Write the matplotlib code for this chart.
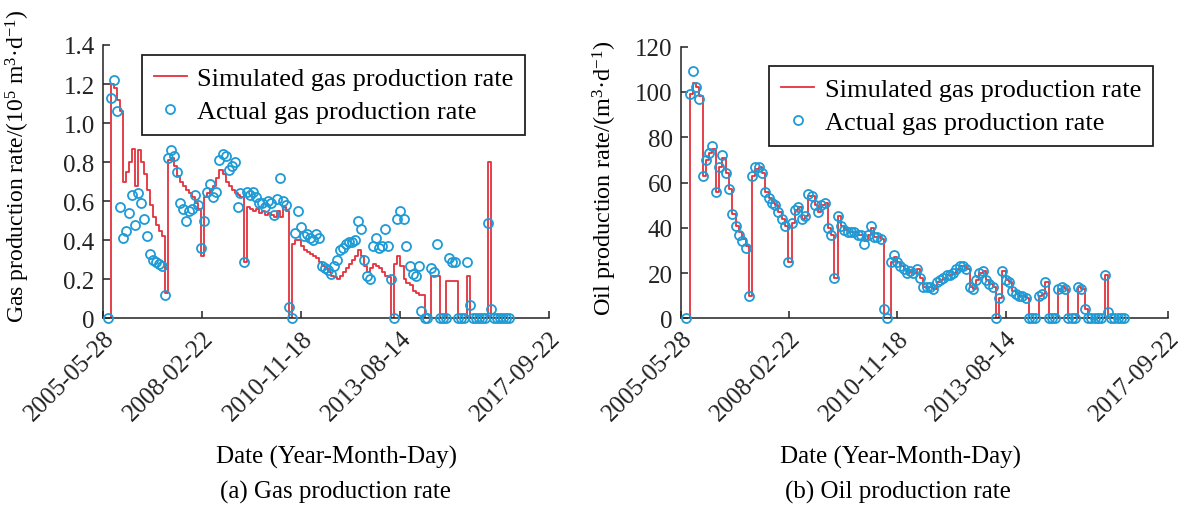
import matplotlib
matplotlib.use("Agg")
import matplotlib.pyplot as plt
import pandas as pd

plt.rcParams["font.family"] = ["Liberation Serif", "DejaVu Serif"]
plt.rcParams["mathtext.fontset"] = "custom"
plt.rcParams["mathtext.rm"] = "Liberation Serif"
plt.rcParams["mathtext.it"] = "Liberation Serif:italic"

# monthly sampling dates (mid-month), Jul 2005 - Aug 2016
months = pd.date_range("2005-07-01", periods=134, freq="MS") + pd.Timedelta(days=14)

# gas rate, 10^5 m3/d
gas_sim = [
    0.00, 1.20, 1.18, 1.12, 1.06, 0.70, 0.75, 0.80, 0.87, 0.68,
    0.86, 0.80, 0.74, 0.66, 0.58, 0.52, 0.48, 0.45, 0.42, 0.13,
    0.81, 0.82, 0.78, 0.73, 0.70, 0.68, 0.66, 0.64, 0.62, 0.59,
    0.56, 0.32, 0.62, 0.64, 0.66, 0.68, 0.72, 0.76, 0.74, 0.70,
    0.68, 0.66, 0.64, 0.63, 0.62, 0.29, 0.57, 0.56, 0.55, 0.56,
    0.54, 0.55, 0.53, 0.54, 0.53, 0.52, 0.55, 0.52, 0.57, 0.55,
    0.00, 0.38, 0.40, 0.40, 0.37, 0.35, 0.34, 0.33, 0.32, 0.31,
    0.29, 0.27, 0.26, 0.24, 0.22, 0.21, 0.20, 0.22, 0.24, 0.26,
    0.28, 0.30, 0.32, 0.35, 0.32, 0.27, 0.24, 0.26, 0.28, 0.27,
    0.26, 0.24, 0.22, 0.21, 0.00, 0.28, 0.32, 0.27, 0.20, 0.18,
    0.17, 0.14, 0.13, 0.12, 0.12, 0.00, 0.00, 0.22, 0.22, 0.22,
    0.00, 0.00, 0.19, 0.19, 0.19, 0.19, 0.00, 0.00, 0.00, 0.22,
    0.00, 0.00, 0.00, 0.00, 0.00, 0.00, 0.80, 0.00, 0.00, 0.00,
    0.00, 0.00, 0.00, 0.00,
]
gas_actual = [
    0.00, 1.13, 1.22, 1.06, 0.57, 0.41, 0.45, 0.54, 0.63, 0.48,
    0.64, 0.59, 0.51, 0.42, 0.33, 0.30, 0.29, 0.28, 0.27, 0.12,
    0.82, 0.86, 0.83, 0.75, 0.59, 0.56, 0.50, 0.55, 0.56, 0.63,
    0.58, 0.36, 0.50, 0.65, 0.69, 0.62, 0.65, 0.81, 0.84, 0.83,
    0.76, 0.78, 0.80, 0.57, 0.64, 0.29, 0.65, 0.63, 0.65, 0.62,
    0.59, 0.59, 0.57, 0.60, 0.59, 0.53, 0.61, 0.72, 0.60, 0.58,
    0.06, 0.00, 0.44, 0.55, 0.47, 0.42, 0.43, 0.41, 0.40, 0.43,
    0.41, 0.27, 0.26, 0.25, 0.23, 0.27, 0.30, 0.35, 0.36, 0.38,
    0.39, 0.39, 0.40, 0.50, 0.46, 0.30, 0.22, 0.20, 0.37, 0.41,
    0.36, 0.37, 0.46, 0.37, 0.20, 0.00, 0.51, 0.55, 0.51, 0.37,
    0.27, 0.23, 0.22, 0.27, 0.04, 0.00, 0.00, 0.26, 0.24, 0.38,
    0.00, 0.00, 0.00, 0.31, 0.29, 0.29, 0.00, 0.00, 0.00, 0.29,
    0.07, 0.00, 0.00, 0.00, 0.00, 0.00, 0.49, 0.05, 0.00, 0.00,
    0.00, 0.00, 0.00, 0.00,
]

# oil rate, m3/d
oil_sim = [
    0, 99, 104, 102, 98, 63, 70, 73, 75, 56,
    67, 71, 64, 57, 46, 41, 38, 35, 32, 10,
    63, 66, 67, 64, 56, 53, 51, 50, 47, 44,
    41, 25, 42, 48, 49, 44, 45, 54, 54, 50,
    47, 50, 51, 40, 37, 18, 45, 41, 39, 38,
    38, 38, 37, 37, 34, 37, 40, 36, 36, 35,
    0, 0, 25, 27, 25, 23, 22, 20, 21, 20,
    22, 18, 14, 14, 14, 13, 16, 17, 18, 19,
    19, 20, 22, 23, 23, 22, 14, 13, 17, 20,
    21, 17, 15, 14, 0, 9, 21, 17, 16, 12,
    11, 10, 10, 9, 0, 0, 0, 10, 11, 16,
    0, 0, 0, 13, 14, 13, 0, 0, 0, 14,
    13, 4, 0, 0, 0, 0, 0, 19, 0, 0,
    0, 0, 0, 0,
]
oil_actual = [
    0, 99, 109, 102, 97, 63, 70, 73, 76, 56,
    67, 72, 64, 57, 46, 41, 37, 34, 31, 10,
    63, 67, 67, 64, 56, 53, 51, 50, 47, 44,
    41, 25, 42, 48, 49, 44, 45, 55, 54, 50,
    47, 50, 51, 40, 37, 18, 45, 41, 39, 38,
    38, 38, 37, 37, 33, 37, 41, 36, 36, 35,
    4, 0, 25, 28, 25, 23, 22, 20, 21, 20,
    22, 18, 14, 14, 14, 13, 16, 17, 18, 19,
    19, 20, 22, 23, 23, 22, 14, 13, 17, 20,
    21, 17, 15, 14, 0, 9, 21, 17, 16, 12,
    11, 10, 10, 9, 0, 0, 0, 10, 11, 16,
    0, 0, 0, 13, 14, 13, 0, 0, 0, 14,
    13, 4, 0, 0, 0, 0, 0, 19, 3, 0,
    0, 0, 0, 0,
]

tick_dates = ["2005-05-28", "2008-02-22", "2010-11-18", "2013-08-14", "2017-09-22"]
gas_yticks = [0, 0.2, 0.4, 0.6, 0.8, 1.0, 1.2, 1.4]
gas_ylabels = ["0", "0.2", "0.4", "0.6", "0.8", "1.0", "1.2", "1.4"]
oil_yticks = [0, 20, 40, 60, 80, 100, 120]
oil_ylabels = ["0", "20", "40", "60", "80", "100", "120"]

RED = "#e3323b"
BLUE = "#1f9bd6"
FS = 18


def panel(ax, sim, actual, yticks, ylabels, leg_xy):
    ax.plot(months, sim, color=RED, lw=1.3, drawstyle="steps-post",
            label="Simulated gas production rate", zorder=2)
    ax.plot(months, actual, ls="none", marker="o", ms=6.5, mfc="none",
            mec=BLUE, mew=1.3, label="Actual gas production rate",
            zorder=3, clip_on=False)

    xt = pd.to_datetime(tick_dates)
    ax.set_xlim(xt[0], xt[-1])
    ax.set_xticks(xt)
    ax.set_xticklabels(tick_dates, rotation=45, ha="right", va="top",
                       rotation_mode="anchor", fontsize=FS)
    ax.set_ylim(yticks[0], yticks[-1])
    ax.set_yticks(yticks)
    ax.set_yticklabels(ylabels, fontsize=FS)

    for side in ("top", "right"):
        ax.spines[side].set_visible(False)
    for side in ("left", "bottom"):
        ax.spines[side].set_linewidth(1.1)
        ax.spines[side].set_color("#222222")
    ax.tick_params(direction="in", length=5, width=1.1, pad=6, colors="#222222")

    leg = ax.legend(loc="upper left", bbox_to_anchor=leg_xy, fontsize=FS + 1,
                    frameon=True, fancybox=False, framealpha=1, edgecolor="#222222",
                    handlelength=1.25, handletextpad=0.4, borderpad=0.45,
                    labelspacing=0.35, borderaxespad=0, numpoints=1)
    leg.get_frame().set_linewidth(1.3)


fig = plt.figure(figsize=(11.87, 5.06), dpi=100)
ax1 = fig.add_axes([0.0868, 0.3686, 0.3757, 0.5405])
ax2 = fig.add_axes([0.5737, 0.3686, 0.4103, 0.5375])

panel(ax1, gas_sim, gas_actual, gas_yticks, gas_ylabels, (0.087, 0.963))
panel(ax2, oil_sim, oil_actual, oil_yticks, oil_ylabels, (0.181, 0.928))

fig.text(0.0152, 0.672, "Gas production rate/(10$^{5}$ m$^{3}$·d$^{-1}$)",
         rotation=90, ha="center", va="center", fontsize=17)
fig.text(0.510, 0.648, "Oil production rate/(m$^{3}$·d$^{-1}$)",
         rotation=90, ha="center", va="center", fontsize=17.5)

fig.text(336 / 1187, 1 - 457 / 506, "Date (Year-Month-Day)", ha="center", va="center", fontsize=FS)
fig.text(335 / 1187, 1 - 492 / 506, "(a) Gas production rate", ha="center", va="center", fontsize=FS)
fig.text(901 / 1187, 1 - 457 / 506, "Date (Year-Month-Day)", ha="center", va="center", fontsize=FS)
fig.text(898 / 1187, 1 - 492 / 506, "(b) Oil production rate", ha="center", va="center", fontsize=FS)

fig.savefig("out.png", dpi=100)
